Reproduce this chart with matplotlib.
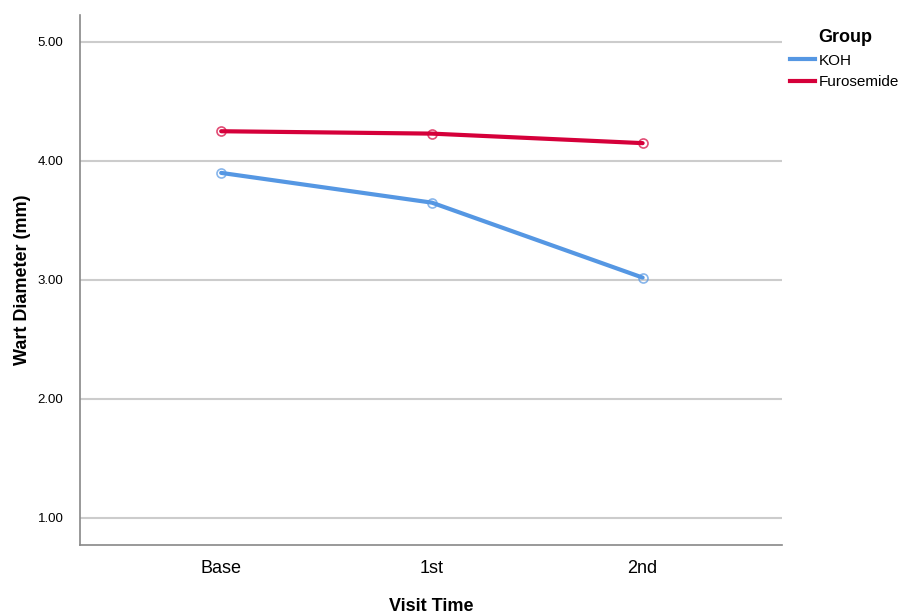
import matplotlib.pyplot as plt
from matplotlib.lines import Line2D

plt.rcParams["font.family"] = ["Liberation Sans", "DejaVu Sans"]

# Data
visits = ["Base", "1st", "2nd"]
koh = [3.90, 3.65, 3.02]
furosemide = [4.25, 4.23, 4.15]
y_ticks = [1.0, 2.0, 3.0, 4.0, 5.0]

BLUE = "#5597E3"
RED = "#D5003A"

fig = plt.figure(figsize=(9.06, 6.14), dpi=100)
ax = fig.add_axes([0.0883, 0.1124, 0.7745, 0.8632])

x = range(len(visits))
for vals, color in [(koh, BLUE), (furosemide, RED)]:
    ax.plot(x, vals, color=color, lw=3, solid_capstyle="round", zorder=3)
    ax.plot(x, vals, ls="none", marker="o", ms=6.5, mfc="none",
            mec=color, mew=1.2, alpha=0.7, zorder=4)

ax.set_xlim(-0.67, 2.66)
ax.set_ylim(0.773, 5.227)
ax.set_yticks(y_ticks)
ax.set_yticklabels([f"{v:.2f}" for v in y_ticks], fontsize=9.5)
ax.set_xticks(list(x))
ax.set_xticklabels(visits, fontsize=13)
ax.tick_params(axis="x", length=0, pad=11)
ax.tick_params(axis="y", length=0, pad=12)

ax.grid(axis="y", color="#CCCCCC", lw=1.5, zorder=0)
for side in ["top", "right"]:
    ax.spines[side].set_visible(False)
for side in ["left", "bottom"]:
    ax.spines[side].set_color("#888888")
    ax.spines[side].set_linewidth(1.2)

ax.set_ylabel("Wart Diameter (mm)", fontsize=13, fontweight="bold", labelpad=5)
ax.set_xlabel("Visit Time", fontsize=13, fontweight="bold", labelpad=15)

handles = [Line2D([], [], color=BLUE, lw=3), Line2D([], [], color=RED, lw=3)]
leg = fig.legend(handles, ["KOH", "Furosemide"], title="Group",
                 loc="upper left", bbox_to_anchor=(0.857, 0.975),
                 frameon=False, fontsize=11, handlelength=1.6,
                 handletextpad=0.3, labelspacing=0.5)
leg.get_title().set_fontweight("bold")
leg.get_title().set_fontsize(13)

fig.savefig("out.png", dpi=100)
